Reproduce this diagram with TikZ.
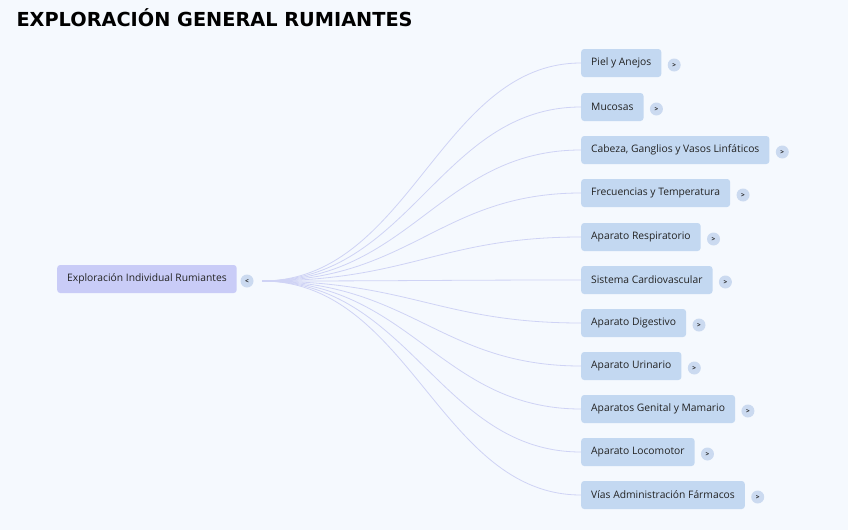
\documentclass[tikz,border=0pt]{standalone}
\usepackage{fontspec}
\usetikzlibrary{positioning}
\setmainfont{Open Sans}
\newfontfamily\titlefont{DejaVu Sans}
\definecolor{fondo}{HTML}{F5F9FE}
\definecolor{raiz}{HTML}{C9CCF7}
\definecolor{rama}{HTML}{C3D8F1}
\definecolor{boton}{HTML}{CBDAF0}
\definecolor{linea}{HTML}{CFD3F5}
\definecolor{texto}{HTML}{222222}
\tikzset{
  tema/.style={draw=none, fill=raiz, rounded corners=3pt, minimum height=28pt,
    inner xsep=10pt, font=\fontsize{10.3}{12}\selectfont, text=texto},
  subtema/.style={draw=none, fill=rama, rounded corners=3pt, minimum height=28pt,
    inner xsep=10pt, font=\fontsize{10.3}{12}\selectfont, text=texto, anchor=west},
  boton/.style={circle, fill=boton, minimum size=13pt, inner sep=0pt,
    font=\fontsize{6.5}{6.5}\selectfont\bfseries, text=texto},
  enlace/.style={draw=linea, line width=0.8pt}
}
\begin{document}
\begin{tikzpicture}[x=1pt, y=-1pt]
\fill[fondo] (0,0) rectangle (848,530);
\useasboundingbox (0,0) rectangle (848,530);
% titulo
\node[anchor=west, font=\titlefont\bfseries\fontsize{19.3}{22}\selectfont] (titulo) at (13,18) {EXPLORACIÓN GENERAL RUMIANTES};
% nodo central
\node[tema, anchor=west] (central) at (57,279) {Exploración Individual Rumiantes};
\node[boton] (cerrar) at (247,281) {<};
\coordinate (origen) at (262,281);
% ramas
\foreach \i/\y/\nombre in {1/63/Piel y Anejos, 2/107/Mucosas, 3/150/{Cabeza, Ganglios y Vasos Linfáticos},
  4/193/Frecuencias y Temperatura, 5/237/Aparato Respiratorio, 6/280/Sistema Cardiovascular,
  7/323/Aparato Digestivo, 8/366/Aparato Urinario, 9/409/Aparatos Genital y Mamario,
  10/452/Aparato Locomotor, 11/495/Vías Administración Fármacos}
{
  \node[subtema] (r\i) at (581,\y) {\nombre};
  \node[boton, right=6pt of r\i.east, yshift=-2pt] (b\i) {>};
  \draw[enlace] (origen) .. controls (410,281) and (440,\y) .. (r\i.west);
}
\end{tikzpicture}
\end{document}
